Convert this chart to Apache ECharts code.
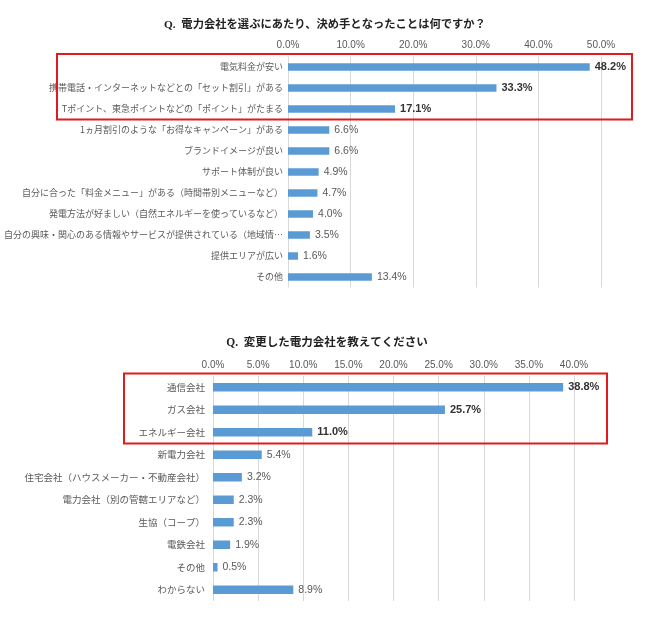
<!DOCTYPE html>
<html>
<head>
<meta charset="utf-8">
<script src="https://cdn.jsdelivr.net/npm/echarts@6/dist/echarts.min.js"></script>
<style>
html,body{margin:0;padding:0;background:#fff;}
#c{width:650px;height:617px;}
</style>
</head>
<body>
<div id="c"></div>
<script>
// ---- data ----
const title1 = "Q.  電力会社を選ぶにあたり、決め手となったことは何ですか？";
const cats1 = [
  "電気料金が安い",
  "携帯電話・インターネットなどとの「セット割引」がある",
  "Tポイント、東急ポイントなどの「ポイント」がたまる",
  "1ヵ月割引のような「お得なキャンペーン」がある",
  "ブランドイメージが良い",
  "サポート体制が良い",
  "自分に合った「料金メニュー」がある（時間帯別メニューなど）",
  "発電方法が好ましい（自然エネルギーを使っているなど）",
  "自分の興味・関心のある情報やサービスが提供されている（地域情…",
  "提供エリアが広い",
  "その他"
];
const vals1 = [48.2, 33.3, 17.1, 6.6, 6.6, 4.9, 4.7, 4.0, 3.5, 1.6, 13.4];
const ticks1 = [0, 10, 20, 30, 40, 50];

const title2 = "Q.  変更した電力会社を教えてください";
const cats2 = [
  "通信会社",
  "ガス会社",
  "エネルギー会社",
  "新電力会社",
  "住宅会社（ハウスメーカー・不動産会社）",
  "電力会社（別の管轄エリアなど）",
  "生協（コープ）",
  "電鉄会社",
  "その他",
  "わからない"
];
const vals2 = [38.8, 25.7, 11.0, 5.4, 3.2, 2.3, 2.3, 1.9, 0.5, 8.9];
const ticks2 = [0, 5, 10, 15, 20, 25, 30, 35, 40];

const highlightCount = 3;

// ---- styling ----
const CJK = '"Noto Sans CJK JP", sans-serif';
const LAT = '"Liberation Sans", Arial, sans-serif';
const BAR = '#5B9BD5';
const GRID = '#d9d9d9';
const TXT = '#595959';

function mkData(vals) {
  return vals.map((v, i) => {
    const hi = i < highlightCount;
    return {
      value: v,
      label: {
        fontWeight: hi ? 'bold' : 'normal',
        color: hi ? '#333333' : TXT,
        fontSize: hi ? 11 : 10.5
      }
    };
  });
}

const chart = echarts.init(document.getElementById('c'), null, {renderer: 'canvas'});

const g1 = {left: 288, right: 49, top: 56.5, height: 231};
const g2 = {left: 213, right: 76, top: 376, height: 225};

function xAxisFor(gi, ticks) {
  const step = ticks[1] - ticks[0];
  return {
    type: 'value', gridIndex: gi, position: 'top',
    min: ticks[0], max: ticks[ticks.length - 1], interval: step,
    axisLine: {show: false}, axisTick: {show: false},
    axisLabel: {formatter: v => v.toFixed(1) + '%', color: TXT, fontSize: 10, fontFamily: LAT, margin: 6},
    splitLine: {show: true, lineStyle: {color: GRID, width: 1}}
  };
}
function yAxisFor(gi, cats, fs, margin) {
  return {
    type: 'category', gridIndex: gi, data: cats, inverse: true,
    axisLine: {show: false}, axisTick: {show: false},
    axisLabel: {color: TXT, fontSize: fs, fontFamily: CJK, margin: margin, interval: 0}
  };
}
function seriesFor(i, vals, bw) {
  return {
    type: 'bar', xAxisIndex: i, yAxisIndex: i, data: mkData(vals),
    barWidth: bw, itemStyle: {color: BAR},
    label: {show: true, position: 'right', distance: 5, fontFamily: LAT,
      formatter: p => p.value.toFixed(1) + '%'},
    silent: true, animation: false
  };
}

chart.setOption({
  animation: false,
  backgroundColor: '#ffffff',
  title: [
    {text: title1, left: 320, top: 14, textAlign: 'center',
     textStyle: {fontFamily: '"Liberation Serif", "Noto Sans CJK JP", serif', fontSize: 11.3, fontWeight: 'bold', color: '#222'}},
    {text: title2, left: 322, top: 332, textAlign: 'center',
     textStyle: {fontFamily: '"Liberation Serif", "Noto Sans CJK JP", serif', fontSize: 11.5, fontWeight: 'bold', color: '#222'}}
  ],
  grid: [g1, g2],
  xAxis: [xAxisFor(0, ticks1), xAxisFor(1, ticks2)],
  yAxis: [yAxisFor(0, cats1, 9, 5), yAxisFor(1, cats2, 9.5, 8)],
  series: [seriesFor(0, vals1, 7.5), seriesFor(1, vals2, 8.5)]
});

// red highlight boxes around top categories, positioned from the axes
function boxFor(idx, cats, xLeft, xRight) {
  const y0 = chart.convertToPixel({yAxisIndex: idx}, cats[0]);
  const y1 = chart.convertToPixel({yAxisIndex: idx}, cats[1]);
  const band = y1 - y0;
  const yl = chart.convertToPixel({yAxisIndex: idx}, cats[highlightCount - 1]);
  const top = y0 - band / 2 - 2.5;
  const bottom = yl + band / 2;
  return {
    type: 'rect', silent: true, z: 100,
    shape: {x: xLeft, y: top, width: xRight - xLeft, height: bottom - top},
    style: {fill: 'none', stroke: '#e01b1b', lineWidth: 2}
  };
}
chart.setOption({
  graphic: [boxFor(0, cats1, 57, 632), boxFor(1, cats2, 124, 607)]
});
</script>
</body>
</html>
